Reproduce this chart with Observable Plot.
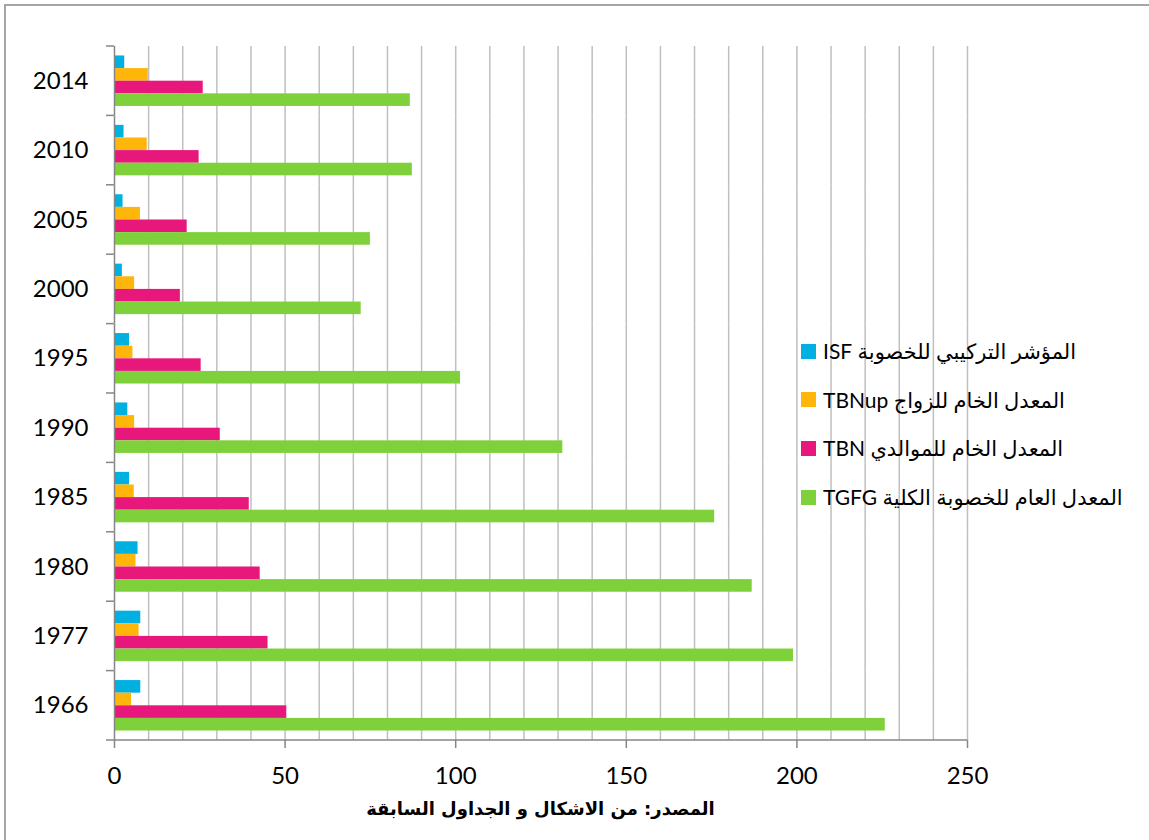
<!DOCTYPE html>
<html>
<head>
<meta charset="utf-8">
<script src="https://cdn.jsdelivr.net/npm/d3@7"></script>
<script src="https://cdn.jsdelivr.net/npm/@observablehq/plot@0.6"></script>
<style>
  html, body { margin: 0; padding: 0; background: #fff; overflow: hidden; }
  #wrap { position: relative; width: 1149px; height: 840px; }
  #border { position: absolute; left: 4px; top: 4px; width: 1200px; height: 900px;
            border-left: 2px solid #a6a6a6; border-top: 2px solid #a6a6a6; box-sizing: border-box; pointer-events: none; }
  #legend { position: absolute; left: 801px; top: 0; }
  .row { position: absolute; left: 0; display: flex; align-items: center; height: 30px; white-space: nowrap; }
  .sw { width: 15px; height: 15px; margin-right: 7px; flex: none; }
  .lt { font-family: Lato, "DejaVu Sans", sans-serif; font-size: 21px; color: #000; direction: rtl; unicode-bidi: isolate; }
  #caption { position: absolute; left: 0; width: 1081px; top: 798px; text-align: center;
             font-family: "DejaVu Sans", sans-serif; font-weight: bold; font-size: 18px; direction: rtl; }
  #caption span { display: inline-block; }
</style>
</head>
<body>
<div id="wrap">
  <div id="chart"></div>
  <div id="legend"></div>
  <div id="caption"></div>
  <div id="border"></div>
</div>
<script>
// ---- data ----
const years = ["2014", "2010", "2005", "2000", "1995", "1990", "1985", "1980", "1977", "1966"];
const seriesNames = ["ISF", "TBNup", "TBN", "TGFG"];
const seriesLabels = [
  "المؤشر التركيبي للخصوبة ISF",
  "المعدل الخام للزواج TBNup",
  "المعدل الخام للموالدي TBN",
  "المعدل العام للخصوبة الكلية TGFG"
];
const ISF   = [3.0, 2.8, 2.5, 2.3, 4.4, 3.9, 4.4, 6.9, 7.7, 7.7];
const TBNup = [9.9, 9.6, 7.6, 5.9, 5.4, 5.9, 5.8, 6.3, 7.2, 5.0];
const TBN   = [26.0, 24.8, 21.3, 19.3, 25.4, 31.0, 39.5, 42.7, 45.0, 50.5];
const TGFG  = [86.7, 87.3, 75.0, 72.3, 101.4, 131.4, 175.9, 186.9, 199.0, 225.9];
const xTicks = [0, 50, 100, 150, 200, 250];
const gridValues = [10, 20, 30, 40, 50, 60, 70, 80, 90, 100, 110, 120, 130, 140, 150, 160, 170, 180, 190, 200, 210, 220, 230, 240, 250];
const colors = ["#00b0e0", "#ffb60a", "#e8177b", "#7fd13b"];
const caption = "المصدر: من الاشكال و الجداول السابقة";

const seriesValues = [ISF, TBNup, TBN, TGFG];
const data = years.flatMap((year, i) =>
  seriesNames.map((s, j) => ({ year, series: s, value: seriesValues[j][i] })));

const plot = Plot.plot({
  width: 1149,
  height: 840,
  marginLeft: 114,
  marginRight: 182,
  marginTop: 46,
  marginBottom: 100,
  style: { fontFamily: "Lato, 'DejaVu Sans', sans-serif", fontSize: "24px", color: "#000", background: "transparent" },
  fy: { domain: years, padding: 0, round: false, axis: "left", tickSize: 0, tickPadding: 26, label: null },
  y: { domain: seriesNames, paddingInner: 0, paddingOuter: 0.75, round: false, axis: null },
  x: { domain: [0, 250], ticks: xTicks, tickSize: 8, tickPadding: 18, label: null },
  color: { domain: seriesNames, range: colors },
  marks: [
    Plot.ruleX(gridValues, { stroke: "#bfbfbf", strokeWidth: 1.5 }),
    Plot.barX(data, { x: "value", y: "series", fy: "year", fill: "series" }),
    Plot.ruleX([0], { stroke: "#868686", strokeWidth: 1.5 })
  ]
});
document.getElementById("chart").appendChild(plot);

// axis styling: grey tick marks, bottom axis line, category boundary ticks
const svg = d3.select(plot);
svg.selectAll("[aria-label='x-axis tick'] path, [aria-label='x-axis'] line").attr("stroke", "#868686").attr("stroke-width", 1.5);
const fyS = plot.scale("fy");
const xS = plot.scale("x");
const x0 = xS.apply(0), x1 = xS.apply(250);
const top0 = fyS.apply(years[0]);
const step = fyS.step;
const bounds = d3.range(years.length + 1).map(i => top0 + i * step);
const g = svg.append("g").attr("stroke", "#868686").attr("stroke-width", 1.5);
g.selectAll("line.b").data(bounds).join("line")
  .attr("x1", x0 - 8).attr("x2", x0).attr("y1", d => d).attr("y2", d => d);
g.append("line").attr("x1", x0).attr("x2", x1)
  .attr("y1", bounds[bounds.length - 1]).attr("y2", bounds[bounds.length - 1]);

// legend (overlaid on the plot area, as in the reference)
const legendCenters = [351, 399.5, 448, 497];
const legend = d3.select("#legend");
seriesLabels.forEach((lab, i) => {
  const row = legend.append("div").attr("class", "row").style("top", (legendCenters[i] - 15) + "px");
  row.append("div").attr("class", "sw").style("background", colors[i]);
  row.append("span").attr("class", "lt").text(lab);
});
d3.select("#caption").append("span").text(caption);
</script>
</body>
</html>
